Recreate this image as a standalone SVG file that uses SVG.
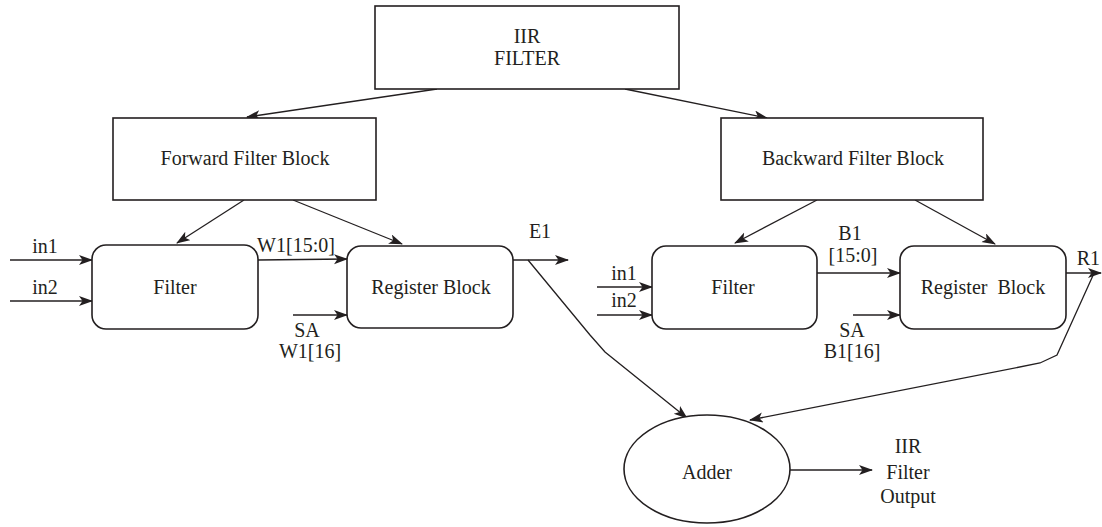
<svg xmlns="http://www.w3.org/2000/svg" width="1102" height="527" viewBox="0 0 1102 527">
<style>
.box{fill:#fff;stroke:#231f20;stroke-width:1.6}
.ln{fill:none;stroke:#231f20;stroke-width:1.3}
.arr{marker-end:url(#ah)}
text{font-family:"Liberation Serif","Times New Roman",serif;font-size:20px;fill:#231f20;text-anchor:middle}
</style>
<defs>
<marker id="ah" markerUnits="userSpaceOnUse" markerWidth="16" markerHeight="12" refX="13" refY="5" orient="auto">
<path d="M0,0 L14,5 L0,10 L3.5,5 z" fill="#231f20"/>
</marker>
</defs>
<rect width="1102" height="527" fill="#fff"/>
<g id="connectors">
<line class="ln arr" x1="437" y1="89" x2="247" y2="117"/>
<line class="ln arr" x1="625" y1="89" x2="767" y2="118"/>
<line class="ln arr" x1="244" y1="200" x2="177" y2="243"/>
<line class="ln arr" x1="293" y1="200" x2="402" y2="244"/>
<line class="ln arr" x1="817" y1="200" x2="735" y2="243"/>
<line class="ln arr" x1="915" y1="200" x2="995" y2="244"/>
<line class="ln arr" x1="10" y1="260" x2="92" y2="260"/>
<line class="ln arr" x1="10" y1="301" x2="92" y2="301"/>
<line class="ln arr" x1="258" y1="260" x2="347" y2="259"/>
<line class="ln arr" x1="293" y1="315" x2="347" y2="315"/>
<line class="ln arr" x1="513" y1="260" x2="568" y2="260"/>
<polyline class="ln arr" points="528,260 590,335 605,352 687,418"/>
<line class="ln arr" x1="597" y1="287" x2="652" y2="287"/>
<line class="ln arr" x1="597" y1="315" x2="652" y2="315"/>
<line class="ln arr" x1="817" y1="273" x2="900" y2="273"/>
<line class="ln arr" x1="853" y1="315" x2="900" y2="315"/>
<line class="ln arr" x1="1066" y1="273" x2="1101" y2="273"/>
<polyline class="ln arr" points="1095,271 1057,355 1040,363 750,420"/>
<line class="ln arr" x1="790" y1="470" x2="872" y2="470"/>
</g>
<g id="iir">
<rect class="box" x="375" y="6" width="304" height="83"/>
<text x="527" y="43">IIR</text>
<text x="527" y="65">FILTER</text>
</g>
<g id="forward">
<rect class="box" x="113" y="118" width="263" height="82"/>
<text x="245" y="165">Forward Filter Block</text>
</g>
<g id="backward">
<rect class="box" x="721" y="118" width="262" height="82"/>
<text x="853" y="165">Backward Filter Block</text>
</g>
<g id="filter1">
<rect class="box" x="92" y="245" width="166" height="84" rx="14"/>
<text x="175" y="294">Filter</text>
</g>
<g id="register1">
<rect class="box" x="347" y="246" width="166" height="82" rx="14"/>
<text x="431" y="294">Register Block</text>
</g>
<g id="filter2">
<rect class="box" x="652" y="246" width="165" height="83" rx="14"/>
<text x="733" y="294">Filter</text>
</g>
<g id="register2">
<rect class="box" x="900" y="246" width="166" height="83" rx="14"/>
<text x="983" y="294" xml:space="preserve">Register  Block</text>
</g>
<g id="adder">
<ellipse class="box" cx="707" cy="469" rx="83" ry="54"/>
<text x="707" y="479">Adder</text>
</g>
<g id="labels">
<text x="45" y="253">in1</text>
<text x="45" y="294">in2</text>
<text x="296" y="252">W1[15:0]</text>
<text x="307" y="337">SA</text>
<text x="310" y="358">W1[16]</text>
<text x="540" y="238">E1</text>
<text x="624" y="280">in1</text>
<text x="624" y="307">in2</text>
<text x="850" y="240">B1</text>
<text x="853" y="262">[15:0]</text>
<text x="852" y="337">SA</text>
<text x="852" y="358">B1[16]</text>
<text x="1100" y="265" style="text-anchor:end">R1</text>
<text x="908" y="453">IIR</text>
<text x="908" y="479">Filter</text>
<text x="908" y="503">Output</text>
</g>
</svg>
